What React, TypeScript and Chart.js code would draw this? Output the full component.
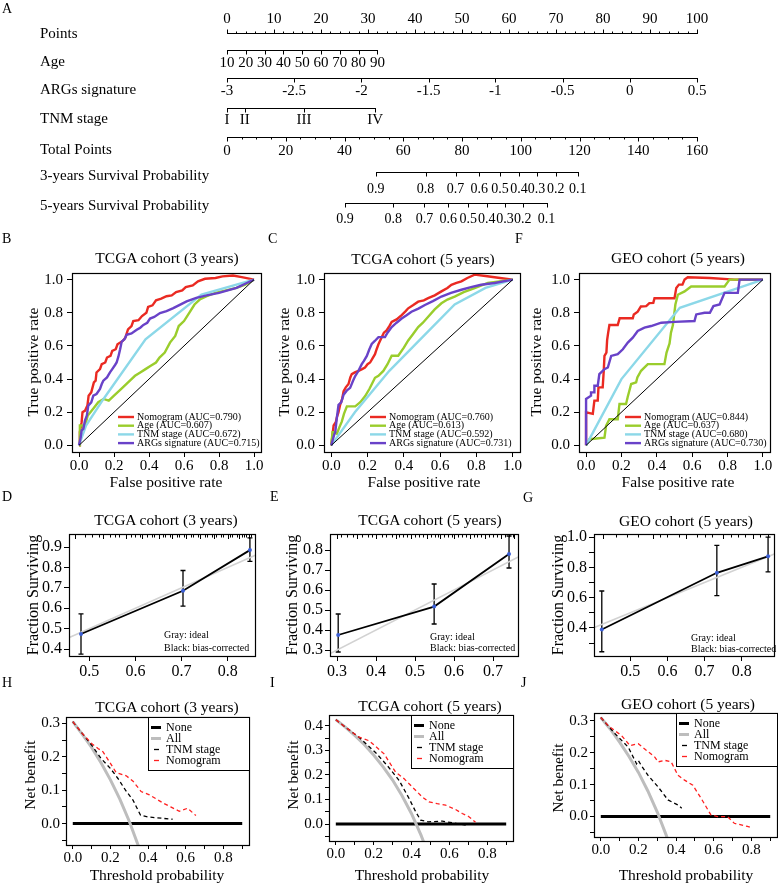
import React, { useEffect, useRef } from "react";
import { Chart, registerables } from "chart.js";

Chart.register(...registerables);

const SERIF = "'Liberation Serif', 'Times New Roman', Times, serif";
const PAGE_W = 778;
const PAGE_H = 883;
const AX_W = 40;
const AX_H = 30;

type Pt = [number, number];
type Box = { l: number; t: number; r: number; b: number };

// ---------------- A: nomogram ----------------
const nomoRowNames = ["Points", "Age", "ARGs signature", "TNM stage", "Total Points", "3-years Survival Probability", "5-years Survival Probability"];
const pointsTicks = [0, 10, 20, 30, 40, 50, 60, 70, 80, 90, 100];
const ageValues = ["10", "20", "30", "40", "50", "60", "70", "80", "90"];
const agePoints = [0, 4, 8, 12, 16, 20, 24, 28, 32];
const argsValues = ["-3", "-2.5", "-2", "-1.5", "-1", "-0.5", "0", "0.5"];
const argsPoints = [0, 14.3, 28.6, 42.9, 57.1, 71.4, 85.7, 100];
const tnmStages = ["I", "II", "III", "IV"];
const tnmPoints = [0, 3.8, 16.4, 31.5];
const totalTicks = [0, 20, 40, 60, 80, 100, 120, 140, 160];
const survLabels = ["0.9", "0.8", "0.7", "0.6", "0.5", "0.4", "0.3", "0.2", "0.1"];
const surv3Total = [50.6, 67.6, 77.8, 85.9, 92.9, 99.4, 105.4, 111.9, 119.4];
const surv5Total = [40.2, 56.6, 67.2, 75.3, 82.1, 88.4, 94.6, 100.7, 108.8];

// ---------------- ROC ----------------
const rocModelNames = ["Nomogram", "Age", "TNM stage", "ARGs signature"];
const aucTcga3 = ["0.790", "0.607", "0.672", "0.715"];
const aucTcga5 = ["0.760", "0.613", "0.592", "0.731"];
const aucGeo5 = ["0.844", "0.637", "0.680", "0.730"];
const rocDiagonal: Pt[] = [[0, 0], [1, 1]];

const rocTcga3Nomogram: Pt[] = [[0, 0], [0.005, 0.08], [0.015, 0.14], [0.02, 0.2], [0.035, 0.21], [0.048, 0.24], [0.055, 0.3], [0.07, 0.32], [0.085, 0.38], [0.095, 0.39], [0.1, 0.44], [0.12, 0.46], [0.13, 0.49], [0.15, 0.5], [0.16, 0.53], [0.18, 0.54], [0.19, 0.57], [0.21, 0.58], [0.22, 0.61], [0.25, 0.63], [0.265, 0.65], [0.28, 0.7], [0.3, 0.72], [0.31, 0.75], [0.34, 0.755], [0.36, 0.78], [0.385, 0.8], [0.395, 0.835], [0.42, 0.845], [0.44, 0.875], [0.47, 0.885], [0.5, 0.9], [0.53, 0.905], [0.555, 0.925], [0.59, 0.935], [0.61, 0.955], [0.65, 0.965], [0.68, 0.99], [0.72, 1.005], [0.78, 1.01], [0.82, 1.02], [0.88, 1.025], [0.93, 1.015], [1, 1]];
const rocTcga3Age: Pt[] = [[0, 0], [0.005, 0.12], [0.02, 0.12], [0.025, 0.1], [0.04, 0.14], [0.05, 0.18], [0.08, 0.22], [0.11, 0.26], [0.14, 0.28], [0.17, 0.27], [0.2, 0.3], [0.24, 0.34], [0.27, 0.37], [0.3, 0.4], [0.32, 0.42], [0.35, 0.44], [0.38, 0.46], [0.41, 0.48], [0.44, 0.5], [0.46, 0.53], [0.49, 0.56], [0.52, 0.62], [0.55, 0.66], [0.57, 0.72], [0.6, 0.75], [0.63, 0.8], [0.66, 0.85], [0.69, 0.88], [0.73, 0.9], [0.78, 0.92], [0.84, 0.935], [0.9, 0.95], [0.95, 0.97], [1, 1]];
const rocTcga3Tnm: Pt[] = [[0, 0], [0.04, 0.12], [0.14, 0.28], [0.38, 0.64], [0.7, 0.91], [1, 1]];
const rocTcga3Args: Pt[] = [[0, 0], [0.01, 0.05], [0.015, 0.09], [0.025, 0.1], [0.034, 0.15], [0.045, 0.18], [0.053, 0.24], [0.07, 0.26], [0.082, 0.3], [0.1, 0.31], [0.12, 0.34], [0.13, 0.37], [0.139, 0.39], [0.16, 0.41], [0.177, 0.44], [0.19, 0.46], [0.206, 0.485], [0.215, 0.5], [0.225, 0.535], [0.235, 0.58], [0.244, 0.626], [0.26, 0.64], [0.272, 0.667], [0.3, 0.675], [0.33, 0.697], [0.35, 0.71], [0.368, 0.727], [0.39, 0.74], [0.406, 0.765], [0.43, 0.775], [0.463, 0.798], [0.5, 0.81], [0.539, 0.828], [0.57, 0.845], [0.615, 0.869], [0.67, 0.89], [0.73, 0.905], [0.8, 0.92], [0.85, 0.935], [0.9, 0.95], [0.95, 0.975], [1, 1]];

const rocTcga5Nomogram: Pt[] = [[0, 0], [0.013, 0.12], [0.025, 0.14], [0.031, 0.17], [0.04, 0.2], [0.049, 0.245], [0.06, 0.28], [0.068, 0.327], [0.08, 0.35], [0.095, 0.37], [0.105, 0.41], [0.113, 0.43], [0.13, 0.44], [0.15, 0.45], [0.17, 0.46], [0.186, 0.47], [0.2, 0.49], [0.214, 0.5], [0.225, 0.52], [0.241, 0.55], [0.25, 0.58], [0.26, 0.61], [0.278, 0.653], [0.29, 0.68], [0.305, 0.694], [0.32, 0.72], [0.333, 0.745], [0.36, 0.76], [0.388, 0.786], [0.41, 0.81], [0.424, 0.827], [0.45, 0.845], [0.479, 0.867], [0.51, 0.875], [0.534, 0.888], [0.57, 0.905], [0.607, 0.929], [0.64, 0.95], [0.662, 0.969], [0.69, 0.98], [0.717, 0.99], [0.75, 1.01], [0.79, 1.03], [0.86, 1.02], [0.93, 1.01], [1, 1]];
const rocTcga5Age: Pt[] = [[0, 0], [0.007, 0.08], [0.02, 0.08], [0.031, 0.07], [0.045, 0.11], [0.058, 0.143], [0.07, 0.19], [0.086, 0.235], [0.132, 0.235], [0.16, 0.26], [0.186, 0.296], [0.21, 0.34], [0.241, 0.408], [0.26, 0.42], [0.287, 0.449], [0.31, 0.49], [0.333, 0.541], [0.369, 0.541], [0.4, 0.59], [0.424, 0.633], [0.45, 0.67], [0.479, 0.714], [0.505, 0.74], [0.534, 0.776], [0.57, 0.82], [0.607, 0.857], [0.64, 0.88], [0.68, 0.898], [0.73, 0.925], [0.79, 0.949], [0.863, 0.98], [1, 1]];
const rocTcga5Tnm: Pt[] = [[0, 0], [0.13, 0.2], [0.32, 0.45], [0.5, 0.65], [0.68, 0.85], [0.85, 0.95], [1, 1]];
const rocTcga5Args: Pt[] = [[0, 0], [0.015, 0.06], [0.022, 0.08], [0.03, 0.16], [0.04, 0.245], [0.055, 0.26], [0.068, 0.306], [0.085, 0.33], [0.104, 0.347], [0.12, 0.39], [0.132, 0.418], [0.15, 0.45], [0.168, 0.49], [0.18, 0.51], [0.196, 0.54], [0.21, 0.58], [0.223, 0.612], [0.24, 0.63], [0.26, 0.653], [0.296, 0.653], [0.31, 0.68], [0.333, 0.714], [0.36, 0.74], [0.388, 0.765], [0.415, 0.785], [0.442, 0.806], [0.48, 0.825], [0.516, 0.847], [0.56, 0.87], [0.607, 0.898], [0.66, 0.92], [0.717, 0.939], [0.77, 0.955], [0.826, 0.969], [0.9, 0.98], [1, 1]];

const rocGeo5Nomogram: Pt[] = [[0, 0], [0, 0.2], [0.038, 0.19], [0.047, 0.27], [0.066, 0.27], [0.07, 0.35], [0.094, 0.35], [0.1, 0.45], [0.104, 0.54], [0.115, 0.56], [0.119, 0.635], [0.125, 0.68], [0.132, 0.726], [0.179, 0.726], [0.19, 0.767], [0.264, 0.767], [0.27, 0.79], [0.292, 0.807], [0.31, 0.838], [0.34, 0.84], [0.358, 0.858], [0.38, 0.86], [0.387, 0.888], [0.5, 0.888], [0.51, 0.95], [0.525, 0.97], [0.545, 0.97], [0.557, 1.0], [0.575, 1.014], [0.7, 1.01], [0.84, 1.0], [1, 1]];
const rocGeo5Age: Pt[] = [[0, 0], [0.019, 0.037], [0.104, 0.047], [0.113, 0.118], [0.132, 0.158], [0.179, 0.158], [0.189, 0.25], [0.226, 0.25], [0.235, 0.29], [0.255, 0.37], [0.283, 0.38], [0.29, 0.41], [0.311, 0.45], [0.349, 0.49], [0.443, 0.49], [0.455, 0.56], [0.472, 0.615], [0.48, 0.68], [0.491, 0.726], [0.505, 0.85], [0.519, 0.909], [0.557, 0.929], [0.594, 0.959], [0.783, 0.959], [0.811, 1.0], [1, 1]];
const rocGeo5Tnm: Pt[] = [[0, 0], [0.2, 0.4], [0.53, 0.83], [1, 1]];
const rocGeo5Args: Pt[] = [[0, 0], [0, 0.28], [0.028, 0.3], [0.028, 0.32], [0.047, 0.32], [0.047, 0.36], [0.066, 0.36], [0.075, 0.43], [0.104, 0.46], [0.123, 0.47], [0.142, 0.54], [0.179, 0.55], [0.208, 0.58], [0.236, 0.62], [0.264, 0.65], [0.292, 0.69], [0.33, 0.71], [0.368, 0.72], [0.425, 0.74], [0.5, 0.745], [0.613, 0.75], [0.623, 0.79], [0.67, 0.8], [0.7, 0.8], [0.72, 0.84], [0.755, 0.85], [0.783, 0.92], [0.858, 0.92], [0.868, 1.0], [1, 1]];

// ---------------- Calibration ----------------
const idealLine: Pt[] = [[0, 0], [1, 1]];
const calTcga3Pred = [0.482, 0.703, 0.848];
const calTcga3Obs = [0.474, 0.686, 0.885];
const calTcga3Lo = [0.375, 0.61, 0.83];
const calTcga3Hi = [0.572, 0.785, 0.945];
const calTcga3Rug = [0.47, 0.49, 0.505, 0.52, 0.53, 0.545, 0.555, 0.565, 0.58, 0.59, 0.6, 0.61, 0.615, 0.625, 0.635, 0.64, 0.65, 0.66, 0.665, 0.675, 0.68, 0.69, 0.695, 0.705, 0.71, 0.72, 0.725, 0.735, 0.74, 0.75, 0.755, 0.765, 0.77, 0.775, 0.785, 0.79, 0.8, 0.805, 0.81, 0.82, 0.825, 0.83, 0.835, 0.84, 0.845, 0.85];

const calTcga5Pred = [0.303, 0.549, 0.741];
const calTcga5Obs = [0.375, 0.517, 0.78];
const calTcga5Lo = [0.29, 0.43, 0.71];
const calTcga5Hi = [0.48, 0.63, 0.87];
const calTcga5Rug = [0.3, 0.31, 0.325, 0.34, 0.35, 0.365, 0.38, 0.39, 0.4, 0.415, 0.425, 0.44, 0.45, 0.46, 0.47, 0.48, 0.49, 0.5, 0.51, 0.52, 0.53, 0.54, 0.55, 0.56, 0.565, 0.575, 0.585, 0.595, 0.6, 0.61, 0.62, 0.63, 0.64, 0.65, 0.66, 0.67, 0.68, 0.69, 0.7, 0.71, 0.72, 0.73, 0.74, 0.75, 0.755];

const calGeo5Pred = [0.423, 0.733, 0.871];
const calGeo5Obs = [0.39, 0.764, 0.873];
const calGeo5Lo = [0.243, 0.614, 0.77];
const calGeo5Hi = [0.644, 0.945, 1.0];
const calGeo5Rug = [0.425, 0.46, 0.49, 0.52, 0.56, 0.58, 0.6, 0.63, 0.65, 0.68, 0.7, 0.72, 0.75, 0.77, 0.79, 0.81, 0.83, 0.85, 0.87];

// ---------------- Decision curves ----------------
const dcaLegendLabels = ["None", "All", "TNM stage", "Nomogram"];
const dcaNone: Pt[] = [[0, 0], [0.9, 0]];

const dcaTcga3All: Pt[] = [[0, 0.305], [0.05, 0.268], [0.1, 0.228], [0.15, 0.182], [0.2, 0.131], [0.25, 0.073], [0.3, 0.007], [0.35, -0.069], [0.38, -0.12]];
const dcaTcga3Tnm: Pt[] = [[0, 0.305], [0.05, 0.27], [0.1, 0.235], [0.15, 0.195], [0.2, 0.165], [0.24, 0.135], [0.28, 0.1], [0.32, 0.07], [0.36, 0.025], [0.4, 0.02], [0.53, 0.013]];
const dcaTcga3Nomogram: Pt[] = [[0, 0.305], [0.05, 0.27], [0.1, 0.24], [0.134, 0.225], [0.16, 0.215], [0.196, 0.184], [0.23, 0.153], [0.284, 0.143], [0.32, 0.127], [0.363, 0.096], [0.407, 0.086], [0.44, 0.075], [0.478, 0.062], [0.52, 0.05], [0.566, 0.037], [0.61, 0.046], [0.654, 0.024]];

const dcaTcga5All: Pt[] = [[0, 0.425], [0.05, 0.395], [0.1, 0.361], [0.15, 0.324], [0.2, 0.281], [0.25, 0.233], [0.3, 0.179], [0.35, 0.115], [0.4, 0.042], [0.45, -0.045], [0.48, -0.105]];
const dcaTcga5Tnm: Pt[] = [[0, 0.425], [0.05, 0.395], [0.123, 0.353], [0.211, 0.29], [0.272, 0.238], [0.334, 0.178], [0.387, 0.104], [0.422, 0.05], [0.448, 0.016], [0.49, 0.009], [0.563, 0.012], [0.633, 0.003], [0.686, -0.004]];
const dcaTcga5Nomogram: Pt[] = [[0, 0.425], [0.05, 0.395], [0.12, 0.355], [0.176, 0.339], [0.255, 0.286], [0.316, 0.211], [0.36, 0.185], [0.404, 0.151], [0.457, 0.11], [0.492, 0.09], [0.536, 0.083], [0.58, 0.077], [0.633, 0.059], [0.668, 0.043], [0.703, 0.03], [0.738, 0.007]];

const dcaGeo5All: Pt[] = [[0, 0.31], [0.05, 0.274], [0.1, 0.233], [0.15, 0.188], [0.2, 0.138], [0.25, 0.08], [0.3, 0.014], [0.35, -0.062], [0.38, -0.11]];
const dcaGeo5Tnm: Pt[] = [[0, 0.31], [0.076, 0.259], [0.146, 0.217], [0.19, 0.165], [0.2, 0.175], [0.215, 0.16], [0.251, 0.129], [0.304, 0.093], [0.357, 0.052], [0.41, 0.036], [0.43, 0.026]];
const dcaGeo5Nomogram: Pt[] = [[0, 0.31], [0.04, 0.284], [0.111, 0.253], [0.155, 0.222], [0.199, 0.228], [0.243, 0.207], [0.287, 0.186], [0.304, 0.171], [0.339, 0.176], [0.374, 0.171], [0.41, 0.129], [0.445, 0.114], [0.489, 0.098], [0.533, 0.057], [0.585, 0.005], [0.62, 0], [0.673, 0], [0.709, -0.021], [0.779, -0.031], [0.805, -0.036]];

// ---------------- styles ----------------
const RED = "#ea2a22";
const GREEN = "#9acd2c";
const CYAN = "#8cd8e8";
const PURPLE = "#6942c8";
const ROC_COLORS = [RED, GREEN, CYAN, PURPLE];

const xy = (a: Pt[]) => a.map(([x, y]) => ({ x, y }));

function axis(isY: boolean, min: number, max: number, ticks: number[], fmt: (v: number) => string, fontSize: number, tickLen: number, pad: number) {
  return {
    type: "linear",
    position: isY ? "left" : "bottom",
    min,
    max,
    afterFit: (s: any) => {
      if (isY) s.width = AX_W;
      else s.height = AX_H;
    },
    afterBuildTicks: (s: any) => {
      s.ticks = ticks.map((v) => ({ value: v }));
    },
    grid: { display: true, drawOnChartArea: false, drawTicks: true, tickLength: tickLen, color: "#000", tickColor: "#000", lineWidth: 1 },
    border: { display: true, color: "#000", width: 1 },
    ticks: {
      color: "#000",
      padding: pad,
      autoSkip: false,
      maxRotation: 0,
      minRotation: 0,
      font: { family: SERIF, size: fontSize },
      callback: (v: any) => fmt(Number(v)),
    },
  };
}

const f1 = (v: number) => v.toFixed(1);
const isTenth = (v: number) => Math.abs(v * 10 - Math.round(v * 10)) < 1e-6;
const fEvenTenth = (v: number) => (isTenth(v) && Math.abs(Math.round(v * 10) % 2) === 0 ? v.toFixed(1) : "");
const fTenth = (v: number) => (isTenth(v) ? v.toFixed(1) : "");

const boxPlugin = {
  id: "frame",
  afterDraw(chart: any) {
    const { ctx, chartArea: a } = chart;
    ctx.save();
    ctx.strokeStyle = "#000";
    ctx.lineWidth = 1.2;
    ctx.strokeRect(Math.round(a.left) + 0.5, Math.round(a.top) + 0.5, Math.round(a.right - a.left), Math.round(a.bottom - a.top));
    ctx.restore();
  },
};

function baseOptions(box: Box, x: any, y: any) {
  return {
    responsive: false,
    maintainAspectRatio: false,
    animation: false,
    events: [],
    layout: { padding: { left: box.l - AX_W, top: box.t, right: PAGE_W - box.r, bottom: PAGE_H - box.b - AX_H } },
    plugins: { legend: { display: false }, tooltip: { enabled: false }, title: { display: false } },
    scales: { x, y },
  };
}

const lineDs = (data: Pt[], color: string, width: number, dash: number[] = []) => ({
  data: xy(data),
  borderColor: color,
  backgroundColor: color,
  borderWidth: width,
  borderDash: dash,
  showLine: true,
  pointRadius: 0,
  tension: 0,
  fill: false,
  clip: 0,
});

function rocConfig(box: Box, series: Pt[][], aucs: string[]) {
  const legend = {
    id: "rocLegend",
    afterDraw(chart: any) {
      const { ctx, chartArea: a } = chart;
      ctx.save();
      ctx.font = `10px ${SERIF}`;
      ctx.textBaseline = "middle";
      ctx.textAlign = "left";
      ctx.lineWidth = 2.4;
      rocModelNames.forEach((name, i) => {
        const y = a.bottom - 35 + i * 8.7;
        ctx.strokeStyle = ROC_COLORS[i];
        ctx.beginPath();
        ctx.moveTo(a.left + 46, y);
        ctx.lineTo(a.left + 62, y);
        ctx.stroke();
        ctx.fillStyle = "#000";
        ctx.fillText(`${name} (AUC=${aucs[i]})`, a.left + 65, y);
      });
      ctx.restore();
    },
  };
  const datasets: any[] = [lineDs(rocDiagonal, "#000", 1)];
  for (let i = series.length - 1; i >= 0; i--) datasets.push(lineDs(series[i], ROC_COLORS[i], 2.4));
  const ticks = [0, 0.2, 0.4, 0.6, 0.8, 1.0];
  return {
    type: "scatter",
    data: { datasets },
    options: baseOptions(box, axis(false, -0.04, 1.04, ticks, f1, 15, 5, 0), axis(true, -0.04, 1.04, ticks, f1, 15, 5, 4)),
    plugins: [boxPlugin, legend],
  };
}

function calibConfig(box: Box, xr: [number, number], yr: [number, number], xTicks: number[], yTicks: number[], yFmt: (v: number) => string, pred: number[], obs: number[], lo: number[], hi: number[], rug: number[]) {
  const bars = {
    id: "errbars",
    beforeDatasetsDraw(chart: any) {
      const { ctx } = chart;
      const sx = chart.scales.x;
      const sy = chart.scales.y;
      ctx.save();
      ctx.strokeStyle = "#000";
      ctx.lineWidth = 1.3;
      pred.forEach((p, i) => {
        const px = sx.getPixelForValue(p);
        const y1 = sy.getPixelForValue(lo[i]);
        const y2 = sy.getPixelForValue(hi[i]);
        ctx.beginPath();
        ctx.moveTo(px, y1);
        ctx.lineTo(px, y2);
        ctx.moveTo(px - 2.5, y1);
        ctx.lineTo(px + 2.5, y1);
        ctx.moveTo(px - 2.5, y2);
        ctx.lineTo(px + 2.5, y2);
        ctx.stroke();
      });
      ctx.restore();
    },
    afterDraw(chart: any) {
      const { ctx, chartArea: a } = chart;
      const sx = chart.scales.x;
      ctx.save();
      ctx.strokeStyle = "#000";
      ctx.lineWidth = 1;
      rug.forEach((r, i) => {
        const px = Math.round(sx.getPixelForValue(r)) + 0.5;
        ctx.beginPath();
        ctx.moveTo(px, a.top);
        ctx.lineTo(px, a.top + (i % 4 === 0 ? 5 : 3.5));
        ctx.stroke();
      });
      ctx.restore();
    },
  };
  const obsPts = pred.map((p, i): Pt => [p, obs[i]]);
  const points = { ...lineDs(obsPts, "#3b5fd6", 0), showLine: false, pointRadius: 2, pointBorderWidth: 0, pointBackgroundColor: "#3b5fd6" };
  const datasets = [points, lineDs(obsPts, "#000", 1.8), lineDs(idealLine, "#d2d2d2", 1.6)];
  return {
    type: "scatter",
    data: { datasets },
    options: baseOptions(box, axis(false, xr[0], xr[1], xTicks, f1, 16, 5, 1), axis(true, yr[0], yr[1], yTicks, yFmt, 16, 5, 2)),
    plugins: [boxPlugin, bars],
  };
}

function dcaConfig(box: Box, yr: [number, number], yTicks: number[], all: Pt[], tnm: Pt[], nomo: Pt[]) {
  const legend = {
    id: "dcaLegend",
    afterDraw(chart: any) {
      const { ctx, chartArea: a } = chart;
      const L = Math.round(a.left + 82);
      const top = Math.round(a.top);
      ctx.save();
      ctx.fillStyle = "#fff";
      ctx.fillRect(L, top, a.right - L, 53);
      ctx.strokeStyle = "#000";
      ctx.lineWidth = 1;
      ctx.strokeRect(L + 0.5, top + 0.5, Math.round(a.right - L), 53);
      ctx.font = `12px ${SERIF}`;
      ctx.textAlign = "left";
      ctx.textBaseline = "middle";
      const styles = [
        { c: "#000", w: 3, dash: false },
        { c: "#bdbdbd", w: 3, dash: false },
        { c: "#000", w: 1.3, dash: true },
        { c: "#ff2020", w: 1.3, dash: true },
      ];
      dcaLegendLabels.forEach((lab, i) => {
        const y = top + 10.5 + i * 11;
        const s = styles[i];
        ctx.strokeStyle = s.c;
        ctx.lineWidth = s.w;
        ctx.beginPath();
        if (s.dash) {
          ctx.moveTo(L + 6, y);
          ctx.lineTo(L + 11, y);
        } else {
          ctx.moveTo(L + 3, y);
          ctx.lineTo(L + 13, y);
        }
        ctx.stroke();
        ctx.fillStyle = "#000";
        ctx.fillText(lab, L + 18, y);
      });
      ctx.restore();
    },
  };
  const datasets = [
    lineDs(nomo, "#ff2020", 1.3, [4, 3]),
    lineDs(tnm, "#000", 1.3, [4, 3]),
    lineDs(all, "#bdbdbd", 3),
    lineDs(dcaNone, "#000", 3),
  ];
  const xTicks = [0, 0.1, 0.2, 0.3, 0.4, 0.5, 0.6, 0.7, 0.8, 0.9];
  return {
    type: "scatter",
    data: { datasets },
    options: baseOptions(box, axis(false, -0.036, 0.936, xTicks, fEvenTenth, 15, 4, 0), axis(true, yr[0], yr[1], yTicks, fTenth, 15, 4, 2)),
    plugins: [boxPlugin, legend],
  };
}

function nomogramConfig() {
  const rows = { points: 33, age: 50, args: 78, tnm: 108, total: 137, s3: 172, s5: 203 };
  const labels = { points: 19, age: 63, args: 91, tnm: 120, total: 151, s3: 189, s5: 219 };
  const names = [34, 62, 90, 119, 150, 176, 206];
  const plugin = {
    id: "nomogram",
    afterDraw(chart: any) {
      const { ctx } = chart;
      const sp = chart.scales.x;
      const st = chart.scales.xt;
      ctx.save();
      ctx.strokeStyle = "#000";
      ctx.fillStyle = "#000";
      ctx.lineWidth = 1;
      ctx.font = `15px ${SERIF}`;
      const X = (s: any, v: number) => Math.round(s.getPixelForValue(v)) + 0.5;
      const line = (s: any, a: number, b: number, y: number) => {
        ctx.beginPath();
        ctx.moveTo(X(s, a) - 0.5, y + 0.5);
        ctx.lineTo(X(s, b) + 0.5, y + 0.5);
        ctx.stroke();
      };
      const tick = (s: any, v: number, y: number, len: number) => {
        ctx.beginPath();
        ctx.moveTo(X(s, v), y + 0.5);
        ctx.lineTo(X(s, v), y + 0.5 + len);
        ctx.stroke();
      };
      const text = (s: any, v: number, y: number, str: string) => {
        ctx.textAlign = "center";
        ctx.textBaseline = "middle";
        ctx.fillText(str, s.getPixelForValue(v), y);
      };
      ctx.textAlign = "left";
      ctx.textBaseline = "middle";
      nomoRowNames.forEach((n, i) => ctx.fillText(n, 40, names[i]));

      line(sp, 0, 100, rows.points);
      for (let v = 0; v <= 100; v += 2) tick(sp, v, rows.points, v % 10 === 0 ? -4 : -2);
      pointsTicks.forEach((v) => text(sp, v, labels.points, String(v)));

      line(sp, agePoints[0], agePoints[agePoints.length - 1], rows.age);
      agePoints.forEach((p, i) => {
        tick(sp, p, rows.age, 4);
        text(sp, p, labels.age, ageValues[i]);
      });

      line(sp, argsPoints[0], argsPoints[argsPoints.length - 1], rows.args);
      argsPoints.forEach((p, i) => {
        tick(sp, p, rows.args, 4);
        text(sp, p, labels.args, argsValues[i]);
      });

      line(sp, tnmPoints[0], tnmPoints[tnmPoints.length - 1], rows.tnm);
      tnmPoints.forEach((p, i) => {
        tick(sp, p, rows.tnm, 4);
        text(sp, p, labels.tnm, tnmStages[i]);
      });

      line(st, 0, 160, rows.total);
      for (let v = 0; v <= 160; v += 5) tick(st, v, rows.total, v % 20 === 0 ? 4 : 2);
      totalTicks.forEach((v) => text(st, v, labels.total, String(v)));

      ctx.font = `14px ${SERIF}`;
      line(st, surv3Total[0], surv3Total[surv3Total.length - 1], rows.s3);
      surv3Total.forEach((p, i) => {
        tick(st, p, rows.s3, 4);
        text(st, p, labels.s3, survLabels[i]);
      });
      line(st, surv5Total[0], surv5Total[surv5Total.length - 1], rows.s5);
      surv5Total.forEach((p, i) => {
        tick(st, p, rows.s5, 4);
        text(st, p, labels.s5, survLabels[i]);
      });
      ctx.restore();
    },
  };
  return {
    type: "scatter",
    data: { datasets: [] },
    options: {
      responsive: false,
      animation: false,
      events: [],
      layout: { padding: { left: 227, right: PAGE_W - 697, top: 0, bottom: PAGE_H - 230 } },
      plugins: { legend: { display: false }, tooltip: { enabled: false } },
      scales: {
        x: { type: "linear", min: 0, max: 100, display: false },
        xt: { type: "linear", axis: "x", min: 0, max: 160, display: false },
        y: { type: "linear", min: 0, max: 1, display: false },
      },
    },
    plugins: [plugin],
  };
}

function buildConfigs() {
  const B: Box = { l: 72, t: 273, r: 261, b: 452 };
  const C: Box = { l: 324, t: 273, r: 520, b: 452 };
  const F: Box = { l: 579, t: 273, r: 770, b: 452 };
  const D: Box = { l: 69, t: 534, r: 255, b: 656 };
  const E: Box = { l: 330, t: 534, r: 518, b: 656 };
  const G: Box = { l: 594, t: 534, r: 777, b: 656 };
  const Hb: Box = { l: 66, t: 717, r: 249, b: 845 };
  const Ib: Box = { l: 329, t: 715, r: 513, b: 841 };
  const Jb: Box = { l: 594, t: 713, r: 777, b: 837 };
  return [
    nomogramConfig(),
    rocConfig(B, [rocTcga3Nomogram, rocTcga3Age, rocTcga3Tnm, rocTcga3Args], aucTcga3),
    rocConfig(C, [rocTcga5Nomogram, rocTcga5Age, rocTcga5Tnm, rocTcga5Args], aucTcga5),
    rocConfig(F, [rocGeo5Nomogram, rocGeo5Age, rocGeo5Tnm, rocGeo5Args], aucGeo5),
    calibConfig(D, [0.456, 0.859], [0.366, 0.964], [0.5, 0.6, 0.7, 0.8], [0.4, 0.5, 0.6, 0.7, 0.8, 0.9], f1, calTcga3Pred, calTcga3Obs, calTcga3Lo, calTcga3Hi, calTcga3Rug),
    calibConfig(E, [0.282, 0.764], [0.27, 0.88], [0.3, 0.4, 0.5, 0.6, 0.7], [0.3, 0.4, 0.5, 0.6, 0.7, 0.8], f1, calTcga5Pred, calTcga5Obs, calTcga5Lo, calTcga5Hi, calTcga5Rug),
    calibConfig(G, [0.402, 0.887], [0.215, 1.02], [0.5, 0.6, 0.7, 0.8], [0.3, 0.4, 0.5, 0.6, 0.7, 0.8, 0.9, 1.0], fEvenTenth, calGeo5Pred, calGeo5Obs, calGeo5Lo, calGeo5Hi, calGeo5Rug),
    dcaConfig(Hb, [-0.064, 0.319], [-0.05, 0, 0.05, 0.1, 0.15, 0.2, 0.25, 0.3], dcaTcga3All, dcaTcga3Tnm, dcaTcga3Nomogram),
    dcaConfig(Ib, [-0.069, 0.444], [-0.05, 0, 0.05, 0.1, 0.15, 0.2, 0.25, 0.3, 0.35, 0.4], dcaTcga5All, dcaTcga5Tnm, dcaTcga5Nomogram),
    dcaConfig(Jb, [-0.064, 0.324], [-0.05, 0, 0.05, 0.1, 0.15, 0.2, 0.25, 0.3], dcaGeo5All, dcaGeo5Tnm, dcaGeo5Nomogram),
  ];
}

type Txt = { s: string; x: number; y: number; size: number; rot?: boolean; left?: boolean };
const TEXTS: Txt[] = [
  { s: "A", x: 2, y: 9, size: 14, left: true },
  { s: "B", x: 2, y: 239, size: 14, left: true },
  { s: "C", x: 268, y: 239, size: 14, left: true },
  { s: "F", x: 515, y: 239, size: 14, left: true },
  { s: "D", x: 2, y: 497, size: 14, left: true },
  { s: "E", x: 270, y: 497, size: 14, left: true },
  { s: "G", x: 523, y: 498, size: 14, left: true },
  { s: "H", x: 2, y: 683, size: 14, left: true },
  { s: "I", x: 270, y: 683, size: 14, left: true },
  { s: "J", x: 521, y: 683, size: 14, left: true },
  { s: "TCGA cohort (3 years)", x: 167, y: 258, size: 15.5 },
  { s: "TCGA cohort (5 years)", x: 423, y: 259, size: 15.5 },
  { s: "GEO cohort (5 years)", x: 678, y: 258, size: 15.5 },
  { s: "TCGA cohort (3 years)", x: 166, y: 520, size: 15.5 },
  { s: "TCGA cohort (5 years)", x: 430, y: 520, size: 15.5 },
  { s: "GEO cohort (5 years)", x: 686, y: 521, size: 15.5 },
  { s: "TCGA cohort (3 years)", x: 167, y: 707, size: 15.5 },
  { s: "TCGA cohort (5 years)", x: 430, y: 706, size: 15.5 },
  { s: "GEO cohort (5 years)", x: 688, y: 704, size: 15.5 },
  { s: "False positive rate", x: 166, y: 482, size: 15.5 },
  { s: "False positive rate", x: 424, y: 482, size: 15.5 },
  { s: "False positive rate", x: 678, y: 482, size: 15.5 },
  { s: "True positive rate", x: 33, y: 362, size: 15.5, rot: true },
  { s: "True positive rate", x: 284, y: 362, size: 15.5, rot: true },
  { s: "True positive rate", x: 536, y: 362, size: 15.5, rot: true },
  { s: "Fraction Surviving", x: 33, y: 595, size: 16, rot: true },
  { s: "Fraction Surviving", x: 292, y: 595, size: 16, rot: true },
  { s: "Fraction Surviving", x: 558, y: 595, size: 16, rot: true },
  { s: "Gray: ideal", x: 164, y: 635, size: 10, left: true },
  { s: "Black: bias-corrected", x: 164, y: 648, size: 10, left: true },
  { s: "Gray: ideal", x: 430, y: 637, size: 10, left: true },
  { s: "Black: bias-corrected", x: 430, y: 648, size: 10, left: true },
  { s: "Gray: ideal", x: 691, y: 638, size: 10, left: true },
  { s: "Black: bias-corrected", x: 691, y: 649, size: 10, left: true },
  { s: "Net benefit", x: 30, y: 775, size: 15.5, rot: true },
  { s: "Net benefit", x: 293, y: 775, size: 15.5, rot: true },
  { s: "Net benefit", x: 558, y: 778, size: 15.5, rot: true },
  { s: "Threshold probability", x: 157, y: 875, size: 15.5 },
  { s: "Threshold probability", x: 422, y: 875, size: 15.5 },
  { s: "Threshold probability", x: 686, y: 875, size: 15.5 },
];

function textStyle(t: Txt): React.CSSProperties {
  return {
    position: "absolute",
    left: t.x,
    top: t.y,
    fontSize: t.size,
    lineHeight: 1,
    whiteSpace: "nowrap",
    transform: t.left ? "translateY(-50%)" : "translate(-50%, -50%)" + (t.rot ? " rotate(-90deg)" : ""),
  };
}

export default function App() {
  const canvases = useRef<(HTMLCanvasElement | null)[]>([]);
  useEffect(() => {
    const cfgs = buildConfigs();
    const charts = cfgs.map((cfg, i) => new Chart(canvases.current[i] as HTMLCanvasElement, cfg as any));
    return () => charts.forEach((c) => c.destroy());
  }, []);
  const slots = [0, 1, 2, 3, 4, 5, 6, 7, 8, 9];
  return (
    <div style={{ position: "absolute", left: 0, top: 0, width: PAGE_W, height: PAGE_H, background: "#fff", overflow: "hidden", fontFamily: SERIF, color: "#000" }}>
      {slots.map((i) => (
        <canvas
          key={i}
          ref={(el) => {
            canvases.current[i] = el;
          }}
          width={PAGE_W}
          height={PAGE_H}
          style={{ position: "absolute", left: 0, top: 0 }}
        />
      ))}
      {TEXTS.map((t, i) => (
        <div key={"t" + i} style={textStyle(t)}>
          {t.s}
        </div>
      ))}
    </div>
  );
}
